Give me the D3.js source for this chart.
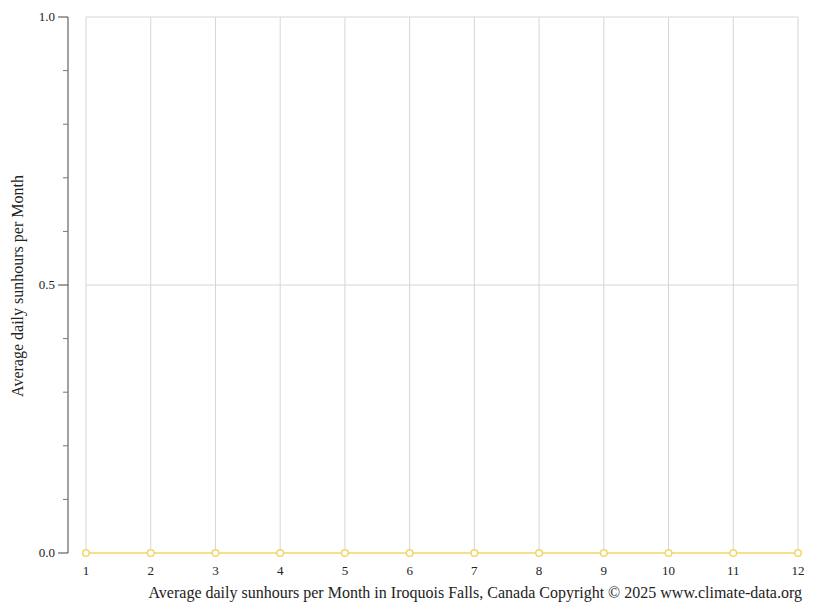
<!DOCTYPE html>
<html>
<head>
<meta charset="utf-8">
<script src="https://cdn.jsdelivr.net/npm/d3@7"></script>
<style>
  body { margin: 0; background: #fff; }
  svg text { font-family: "Liberation Serif", "DejaVu Serif", serif; fill: #222; }
</style>
</head>
<body>
<svg id="chart" width="815" height="611"></svg>
<script>
const months = [1, 2, 3, 4, 5, 6, 7, 8, 9, 10, 11, 12];
const sunhours = [0, 0, 0, 0, 0, 0, 0, 0, 0, 0, 0, 0];
const yMajorTicks = [0, 0.5, 1.0];
const yMinorTicks = [0.1, 0.2, 0.3, 0.4, 0.6, 0.7, 0.8, 0.9];

const svg = d3.select("#chart");
const plotLeft = 86, plotRight = 798, plotTop = 17, plotBottom = 553;

const x = d3.scaleLinear().domain([1, 12]).range([plotLeft, plotRight]);
const y = d3.scaleLinear().domain([0, 1]).range([plotBottom, plotTop]);

// grid
svg.append("g").selectAll("line").data(months).enter().append("line")
    .attr("x1", d => x(d)).attr("x2", d => x(d))
    .attr("y1", plotTop).attr("y2", plotBottom)
    .attr("stroke", "#d6d6d6").attr("stroke-width", 1);
svg.append("g").selectAll("line").data([0.5, 1.0]).enter().append("line")
    .attr("x1", plotLeft).attr("x2", plotRight)
    .attr("y1", d => y(d)).attr("y2", d => y(d))
    .attr("stroke", "#d6d6d6").attr("stroke-width", 1);

// y axis
const yAxis = svg.append("g").attr("transform", "translate(68,0)");
yAxis.append("line").attr("x1", 0).attr("x2", 0).attr("y1", plotTop).attr("y2", plotBottom)
    .attr("stroke", "#444").attr("stroke-width", 1);
yAxis.selectAll(".minor").data(yMinorTicks).enter().append("line")
    .attr("class", "minor")
    .attr("x1", -5).attr("x2", 0)
    .attr("y1", d => y(d)).attr("y2", d => y(d))
    .attr("stroke", "#777");
yAxis.selectAll(".major").data(yMajorTicks).enter().append("line")
    .attr("class", "major")
    .attr("x1", -10).attr("x2", 0)
    .attr("y1", d => y(d)).attr("y2", d => y(d))
    .attr("stroke", "#444");
yAxis.selectAll("text").data(yMajorTicks).enter().append("text")
    .attr("x", -13).attr("y", d => y(d)).attr("dy", "0.32em")
    .attr("text-anchor", "end").style("font-size", "13px")
    .text(d => d3.format(".1f")(d));

// x tick labels
svg.append("g").selectAll("text").data(months).enter().append("text")
    .attr("x", d => x(d)).attr("y", 575)
    .attr("text-anchor", "middle").style("font-size", "13px")
    .text(d => d);

// line
const line = d3.line().x((d, i) => x(months[i])).y(d => y(d));
svg.append("path").datum(sunhours)
    .attr("d", line).attr("fill", "none")
    .attr("stroke", "#f5d565").attr("stroke-width", 1.5);
svg.append("g").selectAll("circle").data(sunhours).enter().append("circle")
    .attr("cx", (d, i) => x(months[i])).attr("cy", d => y(d))
    .attr("r", 3.3).attr("fill", "#fff")
    .attr("stroke", "#f5d565").attr("stroke-width", 1.5);

// labels
svg.append("text")
    .attr("transform", "translate(23,286) rotate(-90)")
    .attr("text-anchor", "middle").style("font-size", "16px")
    .text("Average daily sunhours per Month");
svg.append("text")
    .attr("x", 802).attr("y", 598)
    .attr("text-anchor", "end").style("font-size", "16px")
    .text("Average daily sunhours per Month in Iroquois Falls, Canada Copyright © 2025 www.climate-data.org");
</script>
</body>
</html>
